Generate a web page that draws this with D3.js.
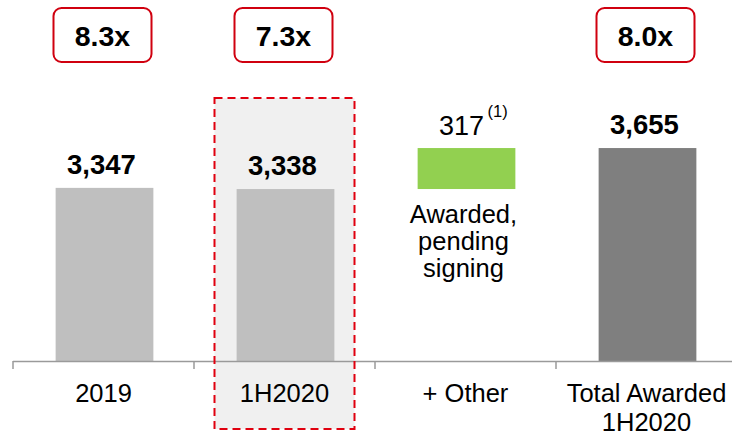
<!DOCTYPE html>
<html>
<head>
<meta charset="utf-8">
<script src="https://cdn.jsdelivr.net/npm/d3@7"></script>
<style>
  html, body { margin: 0; padding: 0; background: #fff; }
  svg { display: block; font-family: "Liberation Sans", Arial, sans-serif; }
</style>
</head>
<body>
<svg id="chart" width="732" height="435"></svg>
<script>
// ---- data ----
const categories = ["2019", "1H2020", "+ Other", "Total Awarded\n1H2020"];
const values = [3347, 3338, 317, 3655];
const barTypes = ["total", "total", "increment", "total"];
const multiples = ["8.3x", "7.3x", null, "8.0x"];
const valueLabels = ["3,347", "3,338", "317", "3,655"];
const otherNote = ["Awarded,", "pending", "signing"];
const axisFloor = 2008; // truncated value axis baseline

const colors = ["#bfbfbf", "#bfbfbf", "#92d050", "#7f7f7f"];

const svg = d3.select("#chart");

const x = d3.scaleBand().domain(categories).range([13, 737]).padding(0);
const y = d3.scaleLinear().domain([axisFloor, axisFloor + 2792]).range([361, 0]);
const barW = x.bandwidth() * 0.54;

// bar extents (waterfall)
const bars = categories.map((c, i) => {
  let lo, hi;
  if (barTypes[i] === "increment") { lo = values[i - 1]; hi = values[i - 1] + values[i]; }
  else { lo = axisFloor; hi = values[i]; }
  return { c, i, lo, hi };
});
const cx = c => x(c) + x.bandwidth() / 2 + 1;

// highlight background for 1H2020
const hl = { x0: cx(categories[1]) - 71, x1: cx(categories[1]) + 69, y0: 98, y1: 429 };
svg.append("rect")
  .attr("x", hl.x0).attr("y", hl.y0)
  .attr("width", hl.x1 - hl.x0).attr("height", hl.y1 - hl.y0)
  .attr("fill", "#f0f0f0");

// bars
svg.selectAll("rect.bar").data(bars).join("rect")
  .attr("class", "bar")
  .attr("x", d => cx(d.c) - barW / 2)
  .attr("y", d => y(d.hi))
  .attr("width", barW)
  .attr("height", d => y(d.lo) - y(d.hi))
  .attr("fill", (d, i) => colors[i]);

// axis
const axisG = svg.append("g").attr("transform", `translate(0,${y(axisFloor)})`);
axisG.append("line").attr("x1", 13).attr("x2", 732).attr("y1", 0.5).attr("y2", 0.5)
  .attr("stroke", "#9a9a9a").attr("stroke-width", 1.5);
axisG.selectAll("line.tick").data(categories).join("line")
  .attr("class", "tick")
  .attr("x1", d => x(d)).attr("x2", d => x(d))
  .attr("y1", 0).attr("y2", 8)
  .attr("stroke", "#9a9a9a").attr("stroke-width", 1.5);

// category labels
categories.forEach((c, i) => {
  const lines = c.split("\n");
  const t = svg.append("text")
    .attr("x", cx(c) - 1).attr("y", 402)
    .attr("text-anchor", "middle")
    .attr("font-size", 25.5).attr("fill", "#000");
  lines.forEach((ln, k) => {
    t.append("tspan").attr("x", cx(c) - 1).attr("dy", k === 0 ? 0 : 28.5).text(ln);
  });
});

// value labels
bars.forEach(d => {
  if (barTypes[d.i] === "increment") {
    const tx = cx(d.c) - 5;
    svg.append("text")
      .attr("x", tx).attr("y", y(d.hi) - 13)
      .attr("text-anchor", "middle").attr("font-size", 27).attr("fill", "#000")
      .text(valueLabels[d.i]);
    svg.append("text")
      .attr("x", tx + 26).attr("y", y(d.hi) - 31)
      .attr("font-size", 16.5).attr("fill", "#000")
      .text("(1)");
    // note below
    otherNote.forEach((ln, k) => {
      svg.append("text")
        .attr("x", cx(d.c) - 3).attr("y", y(d.lo) + 34 + k * 27)
        .attr("text-anchor", "middle").attr("font-size", 25.5).attr("fill", "#000")
        .text(ln);
    });
  } else {
    svg.append("text")
      .attr("x", cx(d.c) - 3).attr("y", y(d.hi) - 14)
      .attr("text-anchor", "middle").attr("font-size", 27.5).attr("font-weight", "bold")
      .attr("fill", "#000").text(valueLabels[d.i]);
  }
});

// multiple boxes
categories.forEach((c, i) => {
  if (!multiples[i]) return;
  const bx = cx(c) - 2;
  svg.append("rect")
    .attr("x", bx - 49).attr("y", 8).attr("width", 98).attr("height", 54)
    .attr("rx", 8).attr("ry", 8)
    .attr("fill", "#fff").attr("stroke", "#d0000f").attr("stroke-width", 2);
  svg.append("text")
    .attr("x", bx).attr("y", 46)
    .attr("text-anchor", "middle").attr("font-size", 28.5).attr("font-weight", "bold")
    .attr("fill", "#000").text(multiples[i]);
});

// dashed highlight border
svg.append("rect")
  .attr("x", hl.x0).attr("y", hl.y0)
  .attr("width", hl.x1 - hl.x0).attr("height", hl.y1 - hl.y0)
  .attr("fill", "none").attr("stroke", "#e0000f").attr("stroke-width", 2)
  .attr("stroke-dasharray", "8,5");
</script>
</body>
</html>
